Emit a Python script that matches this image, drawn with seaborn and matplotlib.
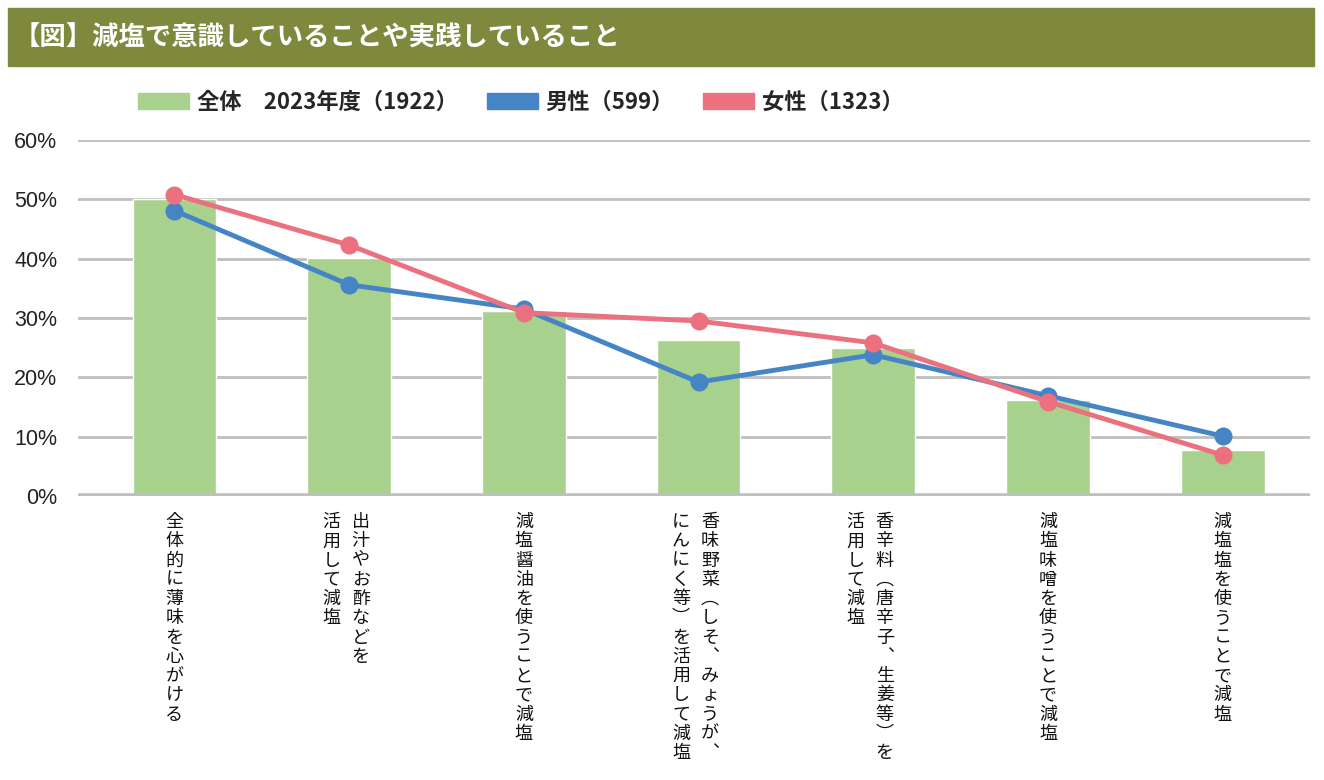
import matplotlib
matplotlib.use("Agg")
import matplotlib.pyplot as plt
import seaborn as sns
import pandas as pd
import numpy as np
from matplotlib.patches import Patch, Rectangle

# ---- data ----
categories = [
    "全体的に薄味を心がける",
    "出汁やお酢などを活用して減塩",
    "減塩醤油を使うことで減塩",
    "香味野菜（しそ、みょうが、にんにく等）を活用して減塩",
    "香辛料（唐辛子、生姜等）を活用して減塩",
    "減塩味噌を使うことで減塩",
    "減塩塩を使うことで減塩",
]
# label columns as they appear (vertical writing, right column first)
label_columns = [
    ["全体的に薄味を心がける"],
    ["出汁やお酢などを", "活用して減塩"],
    ["減塩醤油を使うことで減塩"],
    ["香味野菜︵しそ︑みょうが︑", "にんにく等︶を活用して減塩"],
    ["香辛料︵唐辛子︑生姜等︶を", "活用して減塩"],
    ["減塩味噌を使うことで減塩"],
    ["減塩塩を使うことで減塩"],
]
total_2023 = [50.1, 40.1, 31.2, 26.3, 25.0, 16.2, 7.8]
male = [48.1, 35.6, 31.5, 19.2, 23.8, 16.9, 10.1]
female = [50.8, 42.3, 30.9, 29.5, 25.8, 15.9, 6.9]
yticks = [0, 10, 20, 30, 40, 50, 60]
series_names = ["全体　2023年度（1922）", "男性（599）", "女性（1323）"]
title = "【図】減塩で意識していることや実践していること"

# ---- style ----
sns.set_style("white")
plt.rcParams["font.family"] = ["Noto Sans CJK JP", "DejaVu Sans"]

c_bar = "#a9d18e"
c_male = "#4585c5"
c_female = "#ec717f"
c_grid = "#bfbfbf"
c_title = "#7f893e"

W, H = 1324, 780
fig = plt.figure(figsize=(W / 100, H / 100), dpi=100)

def fx(px):
    return px / W

def fy(py):
    return 1 - py / H

ax = fig.add_axes([fx(78), fy(496), fx(1310) - fx(78), fy(140) - fy(496)])

x_idx = np.arange(len(categories))
df = pd.DataFrame({"cat": categories, "x": x_idx, "total": total_2023,
                   "male": male, "female": female})

sns.barplot(data=df, x="x", y="total", color=c_bar, width=0.48,
            saturation=1, ax=ax, zorder=2, native_scale=True)
sns.lineplot(data=df, x="x", y="male", color=c_male, lw=3.5, marker="o",
             markersize=13, markeredgewidth=0, ax=ax, zorder=4)
sns.lineplot(data=df, x="x", y="female", color=c_female, lw=3.5, marker="o",
             markersize=13, markeredgewidth=0, ax=ax, zorder=5)

ax.set_xlim(-0.552, len(categories) - 0.5)
ax.set_ylim(0, 60)
ax.set_yticks(yticks)
ax.set_yticklabels([f"{v}%" for v in yticks], fontsize=15.5,
                   fontfamily="Liberation Sans", color="#222222")
ax.tick_params(axis="y", length=0, pad=15)
ax.set_xticks([])
ax.set_xlabel("")
ax.set_ylabel("")
for v in yticks[1:]:
    ax.axhline(v, color=c_grid, lw=2, zorder=1)
ax.axhline(0, color=c_grid, lw=4, zorder=3)
for s in ax.spines.values():
    s.set_visible(False)

# vertical x labels
col_gap_px = 29
for i, cols in enumerate(label_columns):
    n = len(cols)
    for j, col in enumerate(cols):
        # right column first
        off_px = ((n - 1) / 2 - j) * col_gap_px - (3 if n > 1 else 0)
        ax.annotate("\n".join(col), xy=(i, 0), xycoords=("data", "axes fraction"),
                    xytext=(off_px * 0.72, -17 * 0.72), textcoords="offset points",
                    ha="center", va="top", fontsize=13, linespacing=1.09,
                    color="#111111")

# title bar
fig.patches.append(Rectangle((fx(8), fy(66)), fx(1314) - fx(8), fy(8) - fy(66),
                             transform=fig.transFigure, color=c_title, zorder=0))
fig.text(fx(14), fy(38), title, color="white", fontsize=19, fontweight="bold",
         va="center", ha="left")

# legend
handles = [Patch(color=c_bar), Patch(color=c_male), Patch(color=c_female)]
fig.legend(handles, series_names, loc="center left", bbox_to_anchor=(fx(118), fy(102)),
           ncol=3, frameon=False, handlelength=2.3, handleheight=0.75,
           handletextpad=0.35, columnspacing=1.3,
           prop={"family": ["Noto Sans CJK JP", "DejaVu Sans"], "weight": "bold", "size": 16})

fig.savefig("out.png", dpi=100, facecolor="white")
